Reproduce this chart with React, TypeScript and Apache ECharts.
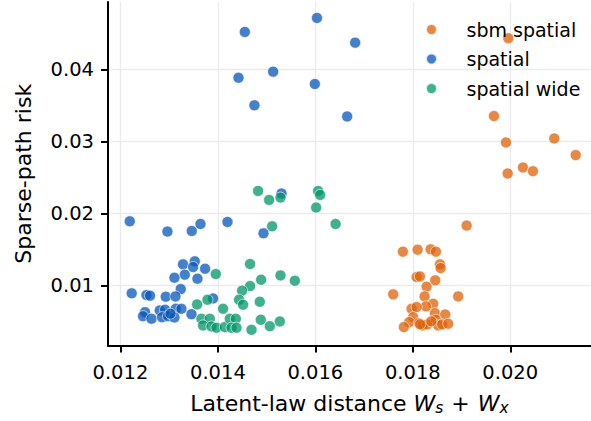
import React, { useEffect, useRef } from "react";
import * as echarts from "echarts";

const seriesNames = ["sbm spatial", "spatial", "spatial wide"];
const seriesColors = ["#de620a", "#0756b8", "#00966a"];

const sbmX = [0.01996, 0.019666, 0.019912, 0.020903, 0.021343, 0.02026, 0.020466, 0.019947, 0.019105, 0.017797, 0.018099, 0.018366, 0.018475, 0.018557, 0.018571, 0.018078, 0.018146, 0.01846, 0.018283, 0.017598, 0.018242, 0.018932, 0.018419, 0.01827, 0.017975, 0.018078, 0.018454, 0.018665, 0.018008, 0.018475, 0.017926, 0.018125, 0.018201, 0.018296, 0.018522, 0.018604, 0.018727, 0.017817, 0.01815, 0.01838];
const sbmY = [0.04436, 0.03354, 0.02988, 0.03043, 0.02811, 0.02639, 0.02588, 0.02556, 0.01831, 0.01469, 0.01497, 0.01501, 0.01469, 0.01292, 0.01241, 0.01116, 0.01125, 0.0107, 0.00982, 0.00875, 0.00847, 0.00847, 0.00745, 0.00708, 0.00675, 0.00698, 0.00614, 0.00596, 0.00558, 0.00522, 0.00489, 0.00475, 0.00443, 0.00457, 0.00443, 0.00457, 0.00467, 0.0042, 0.0046, 0.005];

const spatialX = [0.014553, 0.016034, 0.014423, 0.015134, 0.01599, 0.01475, 0.016653, 0.016817, 0.012191, 0.012965, 0.013464, 0.013643, 0.014197, 0.014936, 0.015306, 0.013285, 0.013526, 0.013491, 0.013737, 0.01332, 0.013109, 0.013581, 0.013238, 0.012232, 0.012534, 0.012608, 0.01293, 0.013129, 0.013901, 0.013458, 0.012505, 0.012464, 0.012637, 0.012807, 0.012916, 0.012854, 0.012977, 0.013136, 0.013252, 0.013109, 0.013027];
const spatialY = [0.04524, 0.04719, 0.03887, 0.03971, 0.038, 0.03503, 0.03349, 0.04375, 0.01891, 0.01748, 0.01756, 0.01854, 0.01882, 0.01724, 0.02277, 0.01292, 0.01334, 0.01255, 0.01232, 0.01149, 0.01107, 0.01093, 0.00948, 0.00889, 0.00865, 0.00857, 0.00843, 0.00847, 0.00819, 0.006, 0.00628, 0.00572, 0.00536, 0.00652, 0.00662, 0.00558, 0.00572, 0.00675, 0.00675, 0.00554, 0.00606];

const wideX = [0.014826, 0.015051, 0.015285, 0.016057, 0.016098, 0.016017, 0.016415, 0.015113, 0.014661, 0.013957, 0.014887, 0.015285, 0.015579, 0.014661, 0.014497, 0.014435, 0.014517, 0.01486, 0.013786, 0.013573, 0.014107, 0.013663, 0.013834, 0.013696, 0.013869, 0.013971, 0.014142, 0.014244, 0.014368, 0.014279, 0.014382, 0.01469, 0.014881, 0.015066, 0.015271];
const wideY = [0.02313, 0.02188, 0.02221, 0.02313, 0.02258, 0.02082, 0.01854, 0.01822, 0.01297, 0.01157, 0.01079, 0.01139, 0.01065, 0.0099, 0.00926, 0.008, 0.00731, 0.00773, 0.008, 0.00735, 0.00675, 0.00536, 0.00536, 0.00443, 0.00429, 0.00411, 0.0042, 0.00536, 0.00536, 0.00411, 0.00411, 0.00383, 0.00522, 0.00433, 0.00499];

const xTicks = [0.012, 0.014, 0.016, 0.018, 0.02];
const yTicks = [0.01, 0.02, 0.03, 0.04];
const xRange = [0.011745, 0.021657];
const yRange = [0.00164, 0.0494];

const FONT = "DejaVu Sans";

function pairs(xs: number[], ys: number[]) {
  return xs.map((x, i) => [x, ys[i]]);
}

export default function App() {
  const ref = useRef<HTMLDivElement>(null);
  useEffect(() => {
    if (!ref.current) return;
    const chart = echarts.init(ref.current, undefined, { renderer: "svg" });
    const allData = [pairs(sbmX, sbmY), pairs(spatialX, spatialY), pairs(wideX, wideY)];
    const axisCommon = {
      type: "value" as const,
      axisLine: { show: true, lineStyle: { color: "#000", width: 2 } },
      axisTick: { show: true, length: 7, lineStyle: { color: "#000", width: 2 } },
      splitLine: { show: true, lineStyle: { color: "#ebebeb", width: 1.3 } },
      minorTick: { show: false },
    };
    chart.setOption({
      animation: false,
      backgroundColor: "#fff",
      textStyle: { fontFamily: FONT },
      grid: { left: 108, right: 0, top: 2, bottom: 75.5, containLabel: false },
      legend: {
        orient: "vertical",
        left: 420,
        top: 15,
        itemWidth: 60,
        itemHeight: 11,
        itemGap: 10.5,
        icon: "circle",
        data: seriesNames,
        textStyle: { fontFamily: FONT, fontSize: 19, color: "#000", lineHeight: 19 },
      },
      xAxis: {
        ...axisCommon,
        min: xRange[0],
        max: xRange[1],
        axisTick: { ...axisCommon.axisTick, customValues: xTicks },
        axisLabel: {
          customValues: xTicks,
          margin: 17,
          fontFamily: FONT,
          fontSize: 19.5,
          color: "#000",
          formatter: (v: number) => v.toFixed(3),
        },
        name: "Latent-law distance {i|W}{s|s}{o|+}{i|W}{s|x}",
        nameLocation: "middle",
        nameGap: 46,
        nameTextStyle: {
          fontFamily: FONT,
          fontSize: 22,
          color: "#000",
          rich: {
            i: { fontFamily: FONT, fontSize: 22, fontStyle: "italic", color: "#000" },
            s: { fontFamily: FONT, fontSize: 15.5, fontStyle: "italic", color: "#000", verticalAlign: "bottom", padding: [8, 0, 0, 0] },
            o: { fontFamily: FONT, fontSize: 22, color: "#000", padding: [0, 8, 0, 8] },
          },
        },
      },
      yAxis: {
        ...axisCommon,
        min: yRange[0],
        max: yRange[1],
        axisTick: { ...axisCommon.axisTick, customValues: yTicks },
        axisLabel: {
          customValues: yTicks,
          margin: 14,
          fontFamily: FONT,
          fontSize: 19.5,
          color: "#000",
          formatter: (v: number) => v.toFixed(2),
        },
        name: "Sparse-path risk",
        nameLocation: "middle",
        nameGap: 74,
        nameTextStyle: { fontFamily: FONT, fontSize: 22, color: "#000" },
      },
      series: seriesNames.map((name, i) => ({
        name,
        type: "scatter",
        data: allData[i],
        symbol: "circle",
        symbolSize: 11,
        itemStyle: { color: seriesColors[i], opacity: 0.75, borderColor: "#fff", borderWidth: 0.8 },
        emphasis: { disabled: true },
      })),
    });
    return () => chart.dispose();
  }, []);
  return (
    <div
      ref={ref}
      style={{ position: "absolute", left: 0, top: 0, width: 591, height: 421 }}
    />
  );
}
